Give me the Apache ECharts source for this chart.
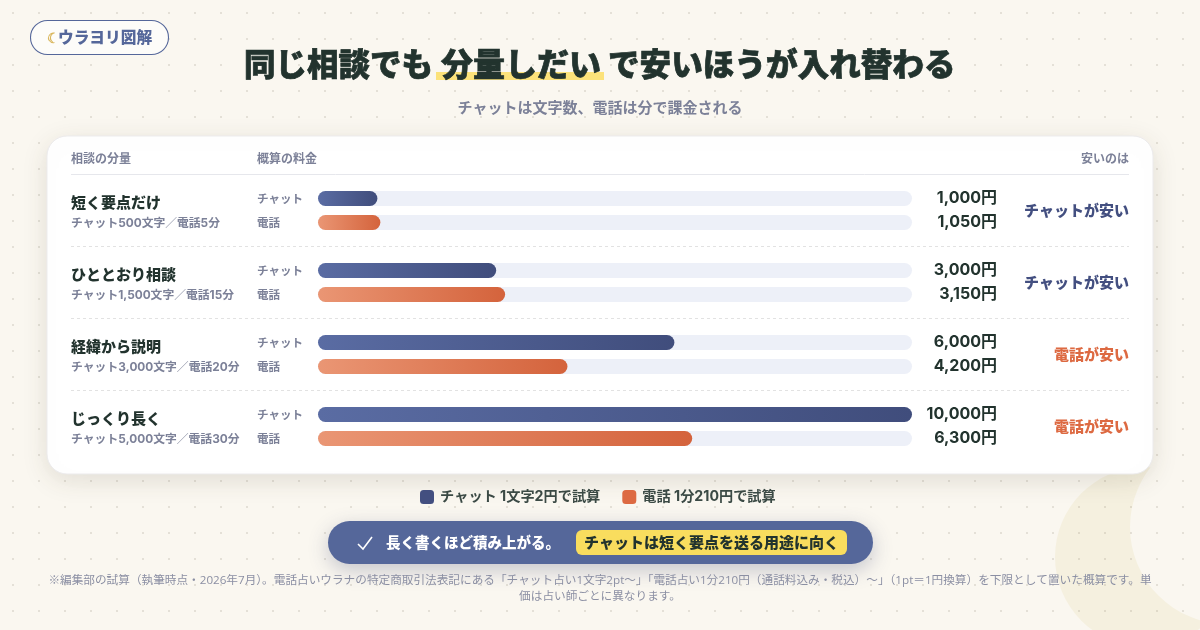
<!DOCTYPE html>
<html lang="ja"><head><meta charset="utf-8">
<style>html,body{margin:0;padding:0;background:#faf7f0}#c{width:1200px;height:630px}</style>
<script src="https://cdn.jsdelivr.net/npm/echarts@6/dist/echarts.min.js"></script>
</head><body><div id="c"></div>
<script>
const rowNames = ['短く要点だけ','ひととおり相談','経緯から説明','じっくり長く'];
const rowDetails = ['チャット500文字／電話5分','チャット1,500文字／電話15分','チャット3,000文字／電話20分','チャット5,000文字／電話30分'];
const channels = ['チャット','電話'];
const chatCosts = [1000,3000,6000,10000];
const phoneCosts = [1050,3150,4200,6300];
const verdicts = ['チャットが安い','チャットが安い','電話が安い','電話が安い'];
const legendNames = ['チャット 1文字2円で試算','電話 1分210円で試算'];
const axisMax = 10000;

const F = 'Inter,"Noto Sans CJK JP","Noto Sans",sans-serif';
const O = '"Open Sans","Noto Sans CJK JP",sans-serif';
const J = '"Noto Sans CJK JP","Noto Sans",sans-serif';
const INK='#22332e', GREY='#7c8198', NAVY='#434f80', ORANGE='#dd6a42', BLUE='#55679a';
const chart = echarts.init(document.getElementById('c'),null,{renderer:'canvas'});

const dot=document.createElement('canvas');dot.width=26;dot.height=26;
const dc=dot.getContext('2d');dc.fillStyle='rgba(125,115,95,.22)';dc.beginPath();dc.arc(13,13,1,0,7);dc.fill();

const grad=(a,b)=>new echarts.graphic.LinearGradient(0,0,1,0,[{offset:0,color:a},{offset:1,color:b}]);
const txt=(x,y,t,size,fill,align,weight,bold,font)=>({type:'text',x,y,z:1,silent:true,style:{text:t,fill,font:`${weight||700} ${size}px ${font||J}`,align:align||'left',verticalAlign:'middle',stroke:bold?fill:null,lineWidth:bold||0}});

const grids=[],xs=[],ys=[],series=[];
rowNames.forEach((_,i)=>{
  grids.push({left:318,width:594,top:186.5+72*i,height:48});
  xs.push({type:'value',gridIndex:i,min:0,max:axisMax,show:false});
  ys.push({type:'category',gridIndex:i,data:channels,inverse:true,axisLine:{show:false},axisTick:{show:false},
    axisLabel:{align:'left',margin:61,color:GREY,fontFamily:J,fontWeight:700,fontSize:11.5}});
  const base={type:'bar',xAxisIndex:i,yAxisIndex:i,barWidth:15,barGap:'-100%',silent:true};
  series.push({...base,name:'track',data:[axisMax,axisMax],itemStyle:{color:'#edf0f8',borderRadius:7.5}});
  series.push({...base,name:legendNames[0],data:[chatCosts[i],null],itemStyle:{color:grad('#5a6ca3','#404d7c'),borderRadius:7.5}});
  series.push({...base,name:legendNames[1],data:[null,phoneCosts[i]],itemStyle:{color:grad('#ea9674','#d4633c'),borderRadius:7.5}});
});

const g=[
 {type:'circle',z:0,silent:true,shape:{cx:1145,cy:557,r:90},style:{fill:'#f5f0df'}},
 {type:'circle',z:0,silent:true,shape:{cx:1227,cy:527,r:97},style:{fill:'#faf7f0'}},
 {type:'rect',z:0,silent:true,shape:{x:0,y:0,width:1200,height:630},style:{fill:{image:dot,repeat:'repeat'}}},
 {type:'rect',z:0,silent:true,shape:{x:47,y:136,width:1106,height:338,r:20},style:{fill:'#fff',stroke:'#ecebec',lineWidth:1,shadowBlur:26,shadowColor:'rgba(70,60,40,.13)',shadowOffsetY:6}},
 // badge
 {type:'rect',z:1,silent:true,shape:{x:30.5,y:20.5,width:138,height:34,r:17},style:{fill:'#fdfcf9',stroke:BLUE,lineWidth:1.1}},
 txt(47,38,'☾',14,'#d9b65c','left',700),
 txt(58,37.5,'ウラヨリ図解',15.7,BLUE,'left',900),
 // title
 {type:'rect',z:1,silent:true,shape:{x:436,y:72,width:168,height:8},style:{fill:'#fce27a'}},
 txt(244,64,'同じ相談でも',31.5,INK,'left',900,.7),
 txt(441,64,'分量しだい',32,INK,'left',900,.7),
 txt(608,64,'で安いほうが入れ替わる',31.6,INK,'left',900,.7),
 txt(600,107,'チャットは文字数、電話は分で課金される',15,GREY,'center',700),
 // table head
 txt(71,158.5,'相談の分量',12,GREY),
 txt(257,158.5,'概算の料金',12,GREY),
 txt(1129,158.5,'安いのは',12,GREY,'right'),
 {type:'line',z:1,silent:true,shape:{x1:71,y1:174.5,x2:1129,y2:174.5},style:{stroke:'#e6e7ec',lineWidth:1}},
 // callout
 {type:'rect',z:1,silent:true,shape:{x:328,y:521,width:545,height:43,r:21.5},style:{fill:BLUE,shadowBlur:20,shadowColor:'rgba(60,70,110,.28)',shadowOffsetY:6}},
 {type:'polyline',z:1,silent:true,shape:{points:[[358,544],[363,549],[372,537]]},style:{stroke:'#fff',lineWidth:1.6,fill:null}},
 txt(386,542.5,'長く書くほど積み上がる。',14.5,'#fff','left',900),
 {type:'rect',z:1,silent:true,shape:{x:576,y:530,width:271,height:25,r:6},style:{fill:'#f9dd5e'}},
 txt(584,542.5,'チャットは短く要点を送る用途に向く',15,INK,'left',900),
 // footnote
 txt(600,581,'※編集部の試算（執筆時点・2026年7月）。電話占いウラナの特定商取引法表記にある「チャット占い1文字2pt〜」「電話占い1分210円（通話料込み・税込）〜」（1pt＝1円換算）を下限として置いた概算です。単',11.65,'#8b8fa3','center',400,0,O),
 txt(600,597,'価は占い師ごとに異なります。',11.65,'#8b8fa3','center',400,0,O),
];
rowNames.forEach((n,i)=>{
  const y=72*i;
  g.push(txt(71,202+y,n,15,INK,'left',900));
  g.push(txt(71,223.4+y,rowDetails[i],11.8,GREY,'left',700,0,F));
  g.push(txt(997,198.2+y,chatCosts[i].toLocaleString('en-US')+'円',16,INK,'right',700,0,F));
  g.push(txt(997,222.2+y,phoneCosts[i].toLocaleString('en-US')+'円',16,INK,'right',700,0,F));
  g.push(txt(1129,210+y,verdicts[i],15,verdicts[i][0]==='電'?ORANGE:NAVY,'right',900));
  if(i<3) g.push({type:'line',z:1,silent:true,shape:{x1:71,y1:246.5+y,x2:1129,y2:246.5+y},style:{stroke:'#e2e2e2',lineWidth:1,lineDash:[3,3]}});
});

chart.setOption({
  animation:false,
  backgroundColor:'#faf7f0',
  grid:grids,xAxis:xs,yAxis:ys,series,
  legend:{left:415,top:485,itemWidth:14,itemHeight:14,itemGap:22,selectedMode:false,
    data:[{name:legendNames[0],icon:'roundRect',itemStyle:{color:'#434f80'}},{name:legendNames[1],icon:'roundRect',itemStyle:{color:'#dd6a42'}}],
    textStyle:{color:'#3b4a45',fontFamily:F,fontWeight:700,fontSize:14.2,padding:[0,0,0,1]}},
  graphic:{elements:g}
});
</script></body></html>
